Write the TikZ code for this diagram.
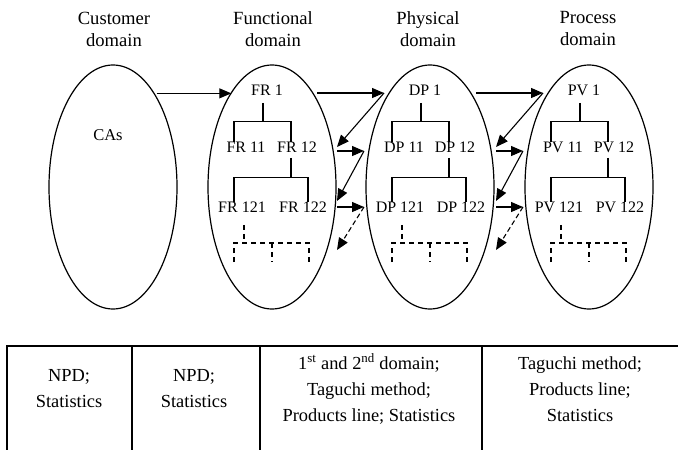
\documentclass[tikz,border=0pt]{standalone}
\usepackage{fontspec}
\setmainfont{Liberation Serif}
\usetikzlibrary{arrows.meta,shapes.geometric}
\newcommand{\domtree}[7]{%
\begin{scope}[xshift=#1]
  \node[lbl] (#2t) at (267,90) {#3};
  \node[lbl] (#2a) at (246,147) {#4};
  \node[lbl] (#2b) at (297,147) {#5};
  \node[lbl] (#2c) at (242,207) {#6};
  \node[lbl] (#2d) at (303,207) {#7};
  \draw[tree] ([xshift=-4pt,yshift=-7.5pt]#2t.south) -- ++(0,19) coordinate (#2h1)
     -| ([xshift=-12pt]#2a.north);
  \draw[tree] (#2h1) -| ([xshift=-6pt]#2b.north);
  \draw[tree] ([xshift=-6pt,yshift=-5.5pt]#2b.south) -- ++(0,20) coordinate (#2h2)
     -| ([xshift=-8pt]#2c.north);
  \draw[tree] (#2h2) -| ([xshift=5pt]#2d.north);
  \draw[dtree] ([xshift=2pt,yshift=-12.5pt]#2c.south) -- ++(0,18);
  \coordinate (#2dl) at (234,243);
  \coordinate (#2dm) at (272,243);
  \coordinate (#2dr) at (309,243);
  \draw[dtree] ([yshift=-19pt]#2dl) -- (#2dl) -- (#2dr) -- ([yshift=-19pt]#2dr);
  \draw[dtree] (#2dm) -- ([yshift=-19pt]#2dm);
\end{scope}}
\newcommand{\zigzag}[2]{%
\begin{scope}[xshift=#1]
  \coordinate (#2p0) at (317,93);
  \coordinate (#2p1) at (384,93);
  \coordinate (#2p2) at (337,147);
  \coordinate (#2p3) at (337,151);
  \coordinate (#2p4) at (364,151);
  \coordinate (#2p5) at (337,201);
  \coordinate (#2p6) at (337,207);
  \coordinate (#2p7) at (364,207);
  \coordinate (#2p8) at (337,250);
  \draw[arr] (#2p0) -- (#2p1);
  \draw[arr] (#2p1) -- (#2p2);
  \draw[arr] (#2p3) -- (#2p4);
  \draw[arr] (#2p4) -- (#2p5);
  \draw[arr] (#2p6) -- (#2p7);
  \draw[darr] (#2p7) -- (#2p8);
\end{scope}}
\begin{document}
\begin{tikzpicture}[x=1pt,y=-1pt,
  dom/.style={draw, ellipse, line width=1.2pt, minimum width=128pt, minimum height=244pt, inner sep=0pt},
  ttl/.style={align=center, font=\fontsize{18.6}{22}\selectfont, inner sep=0pt},
  lbl/.style={inner sep=0pt, outer sep=0pt, font=\fontsize{16}{19}\selectfont},
  tree/.style={line width=1.1pt},
  dtree/.style={line width=1.1pt, dash pattern=on 5pt off 4pt},
  arr/.style={line width=1.1pt, -{Triangle[length=12pt,width=10pt]}},
  darr/.style={arr, dash pattern=on 5pt off 3pt},
  tbl/.style={line width=2pt},
  cell/.style={align=center, font=\fontsize{18.4}{26}\selectfont, inner sep=0pt}]
\useasboundingbox (0,0) rectangle (678,450);
\clip (0,0) rectangle (678,450);

% titles
\node[ttl] (tcust) at (114,29) {Customer\\domain};
\node[ttl] (tfun)  at (273,29) {Functional\\domain};
\node[ttl] (tphy)  at (428,29) {Physical\\domain};
\node[ttl] (tpro)  at (588,29) {Process\\domain};

% domains
\node[dom] (cust) at (113,187) {};
\node[dom] (fun)  at (272,187) {};
\node[dom] (phy)  at (430,187) {};
\node[dom] (pro)  at (589,187) {};

\node[lbl, font=\fontsize{16.5}{19}\selectfont] (cas) at (108,135) {CAs};

\draw[arr] ([xshift=2pt]cust.66) -- ([xshift=1pt]fun.114);

\domtree{0pt}{fr}{FR 1}{FR 11}{FR 12}{FR 121}{FR 122}
\domtree{158pt}{dp}{DP 1}{DP 11}{DP 12}{DP 121}{DP 122}
\domtree{317pt}{pv}{PV 1}{PV 11}{PV 12}{PV 121}{PV 122}

\zigzag{0pt}{za}
\zigzag{159pt}{zb}

% table
\draw[tbl] (7,460) -- (7,346) -- (690,346);
\draw[tbl] (132,346) -- (132,460);
\draw[tbl] (260,346) -- (260,460);
\draw[tbl] (482,346) -- (482,460);
\node[cell] (c1) at (69,389) {NPD;\\Statistics};
\node[cell] (c2) at (194,389) {NPD;\\Statistics};
\node[cell] (c3) at (369,389) {1\textsuperscript{st} and 2\textsuperscript{nd} domain;\\Taguchi method;\\Products line; Statistics};
\node[cell] (c4) at (580,389) {Taguchi method;\\Products line;\\Statistics};
\end{tikzpicture}
\end{document}
